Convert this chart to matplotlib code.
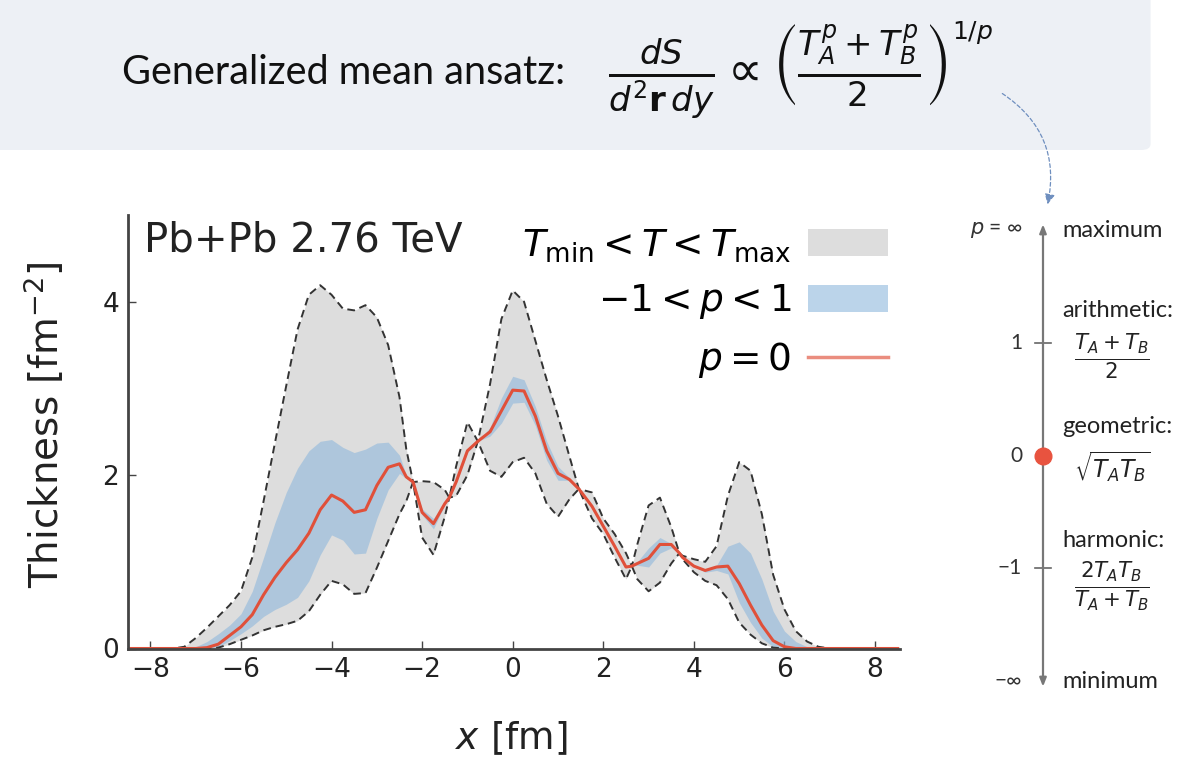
import matplotlib
matplotlib.use("Agg")
import matplotlib.pyplot as plt
from matplotlib.patches import FancyBboxPatch, FancyArrowPatch, Patch
from matplotlib.lines import Line2D

# ── Data (x in fm, thickness in fm^-2) ──────────────────────────────

X = [-8.5, -7.5, -7.25, -7.0, -6.75, -6.5, -6.25, -6.0, -5.75, -5.5,
     -5.25, -5.0, -4.75, -4.5, -4.25, -4.0, -3.75, -3.5, -3.25, -3.0,
     -2.75, -2.5, -2.35, -2.2, -2.0, -1.75, -1.5, -1.4, -1.25, -1.0,
     -0.77, -0.5, -0.25, 0.0, 0.25, 0.5, 0.75, 1.0, 1.25, 1.46,
     1.75, 2.0, 2.25, 2.5, 2.63, 2.75, 3.0, 3.25, 3.5, 3.68,
     3.75, 4.0, 4.25, 4.5, 4.75, 5.0, 5.25, 5.5, 5.75, 6.0,
     6.25, 6.5, 6.75, 7.0, 8.5]

T_MAX = [0, 0, 0.02, 0.12, 0.24, 0.37, 0.50, 0.66, 1.05, 1.70,
         2.37, 3.03, 3.68, 4.08, 4.19, 4.08, 3.92, 3.90, 3.96, 3.82,
         3.50, 2.90, 2.30, 1.92, 1.93, 1.92, 1.83, 1.74, 2.10, 2.61,
         2.39, 3.05, 3.80, 4.13, 4.00, 3.55, 3.10, 2.68, 2.22, 1.84,
         1.80, 1.50, 1.32, 1.10, 0.95, 1.20, 1.65, 1.74, 1.40, 1.10,
         1.07, 1.03, 1.00, 1.18, 1.76, 2.15, 2.05, 1.55, 0.85, 0.45,
         0.20, 0.08, 0.02, 0, 0]

T_MIN = [0, 0, 0, 0, 0, 0.01, 0.05, 0.10, 0.15, 0.21,
         0.25, 0.28, 0.32, 0.43, 0.62, 0.78, 0.74, 0.63, 0.64, 0.93,
         1.24, 1.55, 1.70, 1.92, 1.28, 1.08, 1.52, 1.74, 1.76, 2.00,
         2.39, 2.05, 1.98, 2.15, 2.20, 2.02, 1.67, 1.52, 1.72, 1.84,
         1.50, 1.32, 1.05, 0.80, 0.95, 0.80, 0.66, 0.76, 0.98, 1.10,
         1.03, 0.88, 0.78, 0.73, 0.57, 0.30, 0.16, 0.06, 0.01, 0,
         0, 0, 0, 0, 0]

# p = 1 (upper edge of blue band) and p = -1 (lower edge)
P_HI = [0, 0, 0, 0.02, 0.08, 0.17, 0.27, 0.40, 0.66, 1.05,
        1.45, 1.80, 2.08, 2.28, 2.39, 2.41, 2.32, 2.26, 2.30, 2.37,
        2.38, 2.23, 2.00, 1.92, 1.61, 1.50, 1.68, 1.74, 1.93, 2.30,
        2.39, 2.55, 2.89, 3.14, 3.10, 2.79, 2.39, 2.10, 1.97, 1.84,
        1.65, 1.41, 1.19, 0.95, 0.95, 1.00, 1.16, 1.28, 1.21, 1.10,
        1.05, 0.96, 0.89, 0.96, 1.18, 1.23, 1.10, 0.80, 0.43, 0.20,
        0.08, 0.02, 0, 0, 0]

P_LO = [0, 0, 0, 0, 0, 0.02, 0.09, 0.17, 0.26, 0.37,
        0.45, 0.51, 0.59, 0.78, 1.08, 1.31, 1.25, 1.09, 1.10, 1.50,
        1.83, 2.02, 1.96, 1.92, 1.54, 1.38, 1.66, 1.74, 1.91, 2.26,
        2.39, 2.45, 2.60, 2.83, 2.84, 2.57, 2.17, 1.94, 1.94, 1.84,
        1.64, 1.40, 1.17, 0.93, 0.95, 0.96, 0.94, 1.10, 1.16, 1.10,
        1.05, 0.95, 0.88, 0.90, 0.86, 0.53, 0.30, 0.12, 0.02, 0,
        0, 0, 0, 0, 0]

# p = 0 (geometric mean)
P_ZERO = [0, 0, 0, 0, 0.01, 0.05, 0.15, 0.25, 0.39, 0.62,
          0.82, 0.99, 1.14, 1.33, 1.60, 1.77, 1.70, 1.57, 1.60, 1.88,
          2.09, 2.13, 1.98, 1.92, 1.57, 1.44, 1.67, 1.74, 1.92, 2.28,
          2.39, 2.50, 2.74, 2.98, 2.97, 2.68, 2.28, 2.02, 1.95, 1.84,
          1.64, 1.41, 1.18, 0.94, 0.95, 0.98, 1.04, 1.20, 1.20, 1.10,
          1.05, 0.95, 0.90, 0.94, 0.95, 0.75, 0.50, 0.27, 0.09, 0.02,
          0, 0, 0, 0, 0]

X_TICKS = [-8, -6, -4, -2, 0, 2, 4, 6, 8]
Y_TICKS = [0, 2, 4]

P_LEVELS = [2, 1, 0, -1, -2]
P_LABELS = [r"$p$ = ∞", "1", "0", "−1", "−∞"]

GRAY = "#dddddd"
BLUE = "#8fb8dc"
RED = "#e0503a"
INK = "#333333"

W, H = 1178, 757
fig = plt.figure(figsize=(W / 100, H / 100), dpi=100)
fig.patch.set_facecolor("white")

# ── Header box with the ansatz ───────────────────────────────
hdr = FancyBboxPatch((-0.02, 1 - 150 / H), 1160 / W + 0.012, 0.3,
                     boxstyle="round,pad=0,rounding_size=0.008",
                     transform=fig.transFigure, facecolor="#edf0f5",
                     edgecolor="none", zorder=0)
fig.patches.append(hdr)
fig.text(122 / W, 1 - 72 / H, "Generalized mean ansatz:", fontsize=28.5,
         family="Lato", ha="left", va="center", color="#111111")
fig.text(608 / W, 1 - 72 / H,
         r"$\frac{dS}{d^2\mathbf{r}\,dy}\propto\left(\frac{T_A^p+T_B^p}{2}\right)$",
         fontsize=35, ha="left", va="center", color="#111111")
fig.text(952 / W, 1 - 33 / H, r"$1/p$", fontsize=18, ha="left",
         va="center", color="#111111")

# dashed connector from 1/p down to the p-scale
fig.patches.append(FancyArrowPatch(
    (1000 / W, 1 - 92 / H), (1047 / W, 1 - 207 / H),
    transform=fig.transFigure, connectionstyle="arc3,rad=-0.35",
    arrowstyle="-|>,head_length=6,head_width=3", linestyle=(0, (3, 2)),
    color="#6f8fbf", linewidth=0.9))

# ── Main thickness plot ───────────────────────────────────────
ax = fig.add_axes([127.7 / W, 1 - 648.5 / H, (900 - 127.7) / W, (648.5 - 215) / H])
ax.fill_between(X, T_MIN, T_MAX, color=GRAY, linewidth=0, zorder=1)
ax.fill_between(X, P_LO, P_HI, color=BLUE, alpha=0.6, linewidth=0, zorder=2)
ax.plot(X, T_MAX, color=INK, linestyle=(0, (4, 2.5)), linewidth=1.4, zorder=3)
ax.plot(X, T_MIN, color=INK, linestyle=(0, (4, 2.5)), linewidth=1.4, zorder=3)
ax.plot(X, P_ZERO, color=RED, linewidth=2.2, zorder=4)

ax.set_xlim(-8.5, 8.55)
ax.set_ylim(0, 5.0)
ax.set_xticks(X_TICKS)
ax.set_yticks(Y_TICKS)
ax.set_xticklabels([str(t).replace("-", "−") for t in X_TICKS])
ax.set_yticklabels([str(t) for t in Y_TICKS])
for s in ("top", "right"):
    ax.spines[s].set_visible(False)
for s in ("left", "bottom"):
    ax.spines[s].set_color("#444444")
    ax.spines[s].set_linewidth(2.0)
    ax.spines[s].set_zorder(5)
ax.tick_params(direction="in", length=6, width=1, color="#444444",
               labelsize=19, labelcolor="#222222", pad=6)

ax.text(0.021, 0.942, "Pb+Pb 2.76 TeV", transform=ax.transAxes,
        fontsize=29, ha="left", va="center", color="#222222")

handles = [Patch(facecolor=GRAY, edgecolor="none"),
           Patch(facecolor=BLUE, alpha=0.6, edgecolor="none"),
           Line2D([], [], color=RED, alpha=0.65, linewidth=2.5)]
labels = [r"$T_{\rm min} < T < T_{\rm max}$", r"$-1 < p < 1$", r"$p = 0$"]
ax.legend(handles, labels, loc="upper right", bbox_to_anchor=(0.9845, 0.972),
          frameon=False, markerfirst=False, fontsize=27, handlelength=2.13,
          handleheight=0.75, handletextpad=0.45, labelspacing=0.5, borderpad=0,
          borderaxespad=0)

fig.text(45 / W, 1 - 425 / H, r"Thickness [fm$^{-2}$]", rotation=90,
         fontsize=28, ha="center", va="center", color="#222222")
fig.text(511 / W, 1 - 738 / H, r"$x$ [fm]", fontsize=27,
         ha="center", va="center", color="#222222")

# ── p scale on the right ──────────────────────────────────────
ps = fig.add_axes([940 / W, 1 - 681 / H, 238 / W, 451 / H])
ps.set_xlim(940, 1178)
ps.set_ylim(-2, 2)
ps.axis("off")
ps.annotate("", xy=(1043, 2.05), xytext=(1043, -2.05),
            arrowprops=dict(arrowstyle="<|-|>,head_length=0.5,head_width=0.2",
                            color="#777777", linewidth=1.6, shrinkA=0, shrinkB=0),
            annotation_clip=False)
for lvl in (1, -1):
    ps.plot([1035, 1051], [lvl, lvl], color="#666666", linewidth=1.2)
ps.plot([1043], [0], "o", color="#e8533f", markersize=12, zorder=5)
for lvl, lab in zip(P_LEVELS, P_LABELS):
    ps.text(1022, lvl, lab, ha="right", va="center", fontsize=15,
            color="#333333", family="Lato")

txt = dict(fontsize=17, color="#222222", family="Lato", va="center")
ps.text(1062, 2, "maximum", ha="left", **txt)
ps.text(1062, 1.29, "arithmetic:", ha="left", **txt)
ps.text(1112, 0.87, r"$\frac{T_A+T_B}{2}$", ha="center", fontsize=22,
        va="center", color="#222222")
ps.text(1062, 0.253, "geometric:", ha="left", **txt)
ps.text(1112, -0.10, r"$\sqrt{T_A T_B}$", ha="center", fontsize=17,
        va="center", color="#222222")
ps.text(1062, -0.758, "harmonic:", ha="left", **txt)
ps.text(1112, -1.16, r"$\frac{2T_A T_B}{T_A+T_B}$", ha="center",
        fontsize=22, va="center", color="#222222")
ps.text(1062, -2, "minimum", ha="left", **txt)

fig.savefig("out.png", dpi=100)
